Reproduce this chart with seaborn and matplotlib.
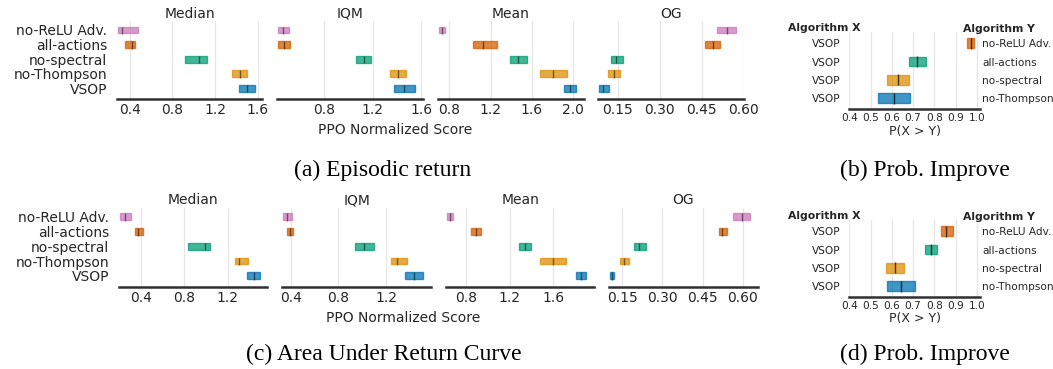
import numpy as np
import matplotlib
matplotlib.use("Agg")
import matplotlib.pyplot as plt
import seaborn as sns

# ---------------- data ----------------
algorithms = ["no-ReLU Adv.", "all-actions", "no-spectral", "no-Thompson", "VSOP"]
metrics = ["Median", "IQM", "Mean", "OG"]

# (a) Episodic return
ep_median_lo = [0.287, 0.353, 0.917, 1.359, 1.427]
ep_median_pt = [0.325, 0.425, 1.046, 1.434, 1.500]
ep_median_hi = [0.475, 0.447, 1.124, 1.497, 1.578]
ep_iqm_lo = [0.422, 0.422, 1.063, 1.346, 1.373]
ep_iqm_pt = [0.463, 0.466, 1.129, 1.411, 1.460]
ep_iqm_hi = [0.513, 0.518, 1.186, 1.474, 1.551]
ep_mean_lo = [0.700, 1.029, 1.390, 1.681, 1.907]
ep_mean_pt = [0.726, 1.128, 1.468, 1.807, 1.970]
ep_mean_hi = [0.761, 1.259, 1.549, 1.940, 2.023]
ep_og_lo = [0.5045, 0.463, 0.124, 0.113, 0.083]
ep_og_pt = [0.539, 0.489, 0.143, 0.135, 0.098]
ep_og_hi = [0.572, 0.516, 0.169, 0.158, 0.119]

# (c) Area under return curve
au_median_lo = [0.209, 0.350, 0.834, 1.268, 1.373]
au_median_pt = [0.255, 0.373, 0.987, 1.306, 1.440]
au_median_hi = [0.310, 0.418, 1.033, 1.382, 1.493]
au_iqm_lo = [0.338, 0.372, 0.936, 1.237, 1.353]
au_iqm_pt = [0.372, 0.394, 1.014, 1.293, 1.430]
au_iqm_hi = [0.411, 0.420, 1.095, 1.371, 1.506]
au_mean_lo = [0.627, 0.851, 1.289, 1.478, 1.806]
au_mean_pt = [0.657, 0.891, 1.338, 1.594, 1.852]
au_mean_hi = [0.687, 0.937, 1.393, 1.715, 1.898]
au_og_lo = [0.563, 0.510, 0.193, 0.141, 0.104]
au_og_pt = [0.597, 0.524, 0.213, 0.157, 0.111]
au_og_hi = [0.628, 0.541, 0.237, 0.176, 0.118]

# (b),(d) probability of improvement: VSOP vs others
pair_x = ["VSOP", "VSOP", "VSOP", "VSOP"]
pair_y = ["no-ReLU Adv.", "all-actions", "no-spectral", "no-Thompson"]
pi_ep_lo = [0.953, 0.683, 0.576, 0.537]
pi_ep_pt = [0.972, 0.720, 0.631, 0.611]
pi_ep_hi = [0.988, 0.761, 0.680, 0.686]
pi_au_lo = [0.831, 0.757, 0.573, 0.576]
pi_au_pt = [0.854, 0.785, 0.615, 0.642]
pi_au_hi = [0.887, 0.812, 0.658, 0.708]

# ---------------- style ----------------
sns.set_style("white")
plt.rcParams["font.family"] = ["DejaVu Sans"]
pal = sns.color_palette("colorblind")
algo_colors = {"VSOP": pal[0], "no-Thompson": pal[1], "no-spectral": pal[2],
               "all-actions": pal[3], "no-ReLU Adv.": pal[4]}
pair_colors = [pal[3], pal[2], pal[1], pal[0]]
TXT = "#262626"
GRID = "#e6e6e6"

W, H = 1053, 369
fig = plt.figure(figsize=(W / 100, H / 100), dpi=100)


def px_axes(x0, y0, x1, y1):
    return fig.add_axes([x0 / W, 1 - y1 / H, (x1 - x0) / W, (y1 - y0) / H])


def interval_panel(ax, lo, pt, hi, xlim, ticks, fmt, title, ylabels):
    n = len(algorithms)
    ypos = np.arange(n)[::-1]  # first algorithm on top
    for i, a in enumerate(algorithms):
        c = algo_colors[a]
        ax.barh(y=ypos[i], width=hi[i] - lo[i], left=lo[i], height=0.46,
                color=c, edgecolor=c, linewidth=1.0, alpha=0.75, zorder=3)
        ax.vlines(pt[i], ypos[i] - 0.28, ypos[i] + 0.23, color="k", alpha=0.5,
                  lw=1.0, zorder=4)
    ax.set_xlim(*xlim)
    ax.set_ylim(-0.73, 4.6)
    ax.set_xticks(ticks)
    ax.set_xticklabels([fmt.format(t) for t in ticks])
    ax.xaxis.grid(True, color=GRID, lw=0.9, zorder=0)
    ax.yaxis.grid(False)
    ax.set_yticks(ypos)
    if ylabels:
        ax.set_yticklabels(algorithms)
    else:
        ax.set_yticklabels([])
    ax.tick_params(axis="both", length=0, labelsize=10, colors=TXT)
    ax.tick_params(axis="x", pad=3)
    ax.tick_params(axis="y", pad=7)
    for s in ["top", "right", "left"]:
        ax.spines[s].set_visible(False)
    ax.spines["bottom"].set_color("#303030")
    ax.spines["bottom"].set_linewidth(1.8)
    ax.set_title(title, fontsize=10, color=TXT, pad=2.5)


def prob_panel(ax, lo, pt, hi):
    n = len(pair_y)
    ypos = np.arange(n)[::-1]
    for i in range(n):
        c = pair_colors[i]
        ax.barh(y=ypos[i], width=hi[i] - lo[i], left=lo[i], height=0.53,
                color=c, edgecolor=c, linewidth=1.0, alpha=0.75, zorder=3)
        ax.vlines(pt[i], ypos[i] - 0.3, ypos[i] + 0.3, color="k", alpha=0.7,
                  lw=1.0, zorder=4)
    ax.set_xlim(0.4, 1.015)
    ax.set_ylim(-0.6, 3.6)
    ticks = [0.4, 0.5, 0.6, 0.7, 0.8, 0.9, 1.0]
    ax.set_xticks(ticks)
    ax.set_xticklabels(["{:.1f}".format(t) for t in ticks])
    ax.xaxis.grid(True, color=GRID, lw=0.9, zorder=0)
    ax.set_yticks(ypos)
    ax.set_yticklabels(pair_x)
    ax.tick_params(axis="both", length=0, labelsize=7.6, colors=TXT)
    ax.tick_params(axis="x", pad=3)
    ax.tick_params(axis="y", pad=6)
    for s in ["top", "right", "left"]:
        ax.spines[s].set_visible(False)
    ax.spines["bottom"].set_color("#303030")
    ax.spines["bottom"].set_linewidth(1.8)
    ax2 = ax.twinx()
    ax2.set_ylim(ax.get_ylim())
    ax2.set_yticks(ypos)
    ax2.set_yticklabels(pair_y)
    ax2.tick_params(axis="y", length=0, labelsize=7.6, colors=TXT, pad=1.5)
    for s in ["top", "right", "left", "bottom"]:
        ax2.spines[s].set_visible(False)


# ---------------- row 1 ----------------
row1_x = [(117, 262), (277.3, 422.7), (437.7, 583.7), (598.3, 744.3)]
row1_data = [(ep_median_lo, ep_median_pt, ep_median_hi, (0.28, 1.64), [0.4, 0.8, 1.2, 1.6], "{:.1f}"),
             (ep_iqm_lo, ep_iqm_pt, ep_iqm_hi, (0.414, 1.612), [0.8, 1.2, 1.6], "{:.1f}"),
             (ep_mean_lo, ep_mean_pt, ep_mean_hi, (0.688, 2.101), [0.8, 1.2, 1.6, 2.0], "{:.1f}"),
             (ep_og_lo, ep_og_pt, ep_og_hi, (0.0795, 0.602), [0.15, 0.30, 0.45, 0.60], "{:.2f}")]
for k, ((x0, x1), (lo, pt, hi, xl, tk, fm)) in enumerate(zip(row1_x, row1_data)):
    ax = px_axes(x0, 21.2, x1, 99)
    interval_panel(ax, lo, pt, hi, xl, tk, fm, metrics[k], k == 0)

# ---------------- row 2 ----------------
row2_x = [(119, 267.3), (282.3, 431), (446, 594.3), (609.3, 757.7)]
row2_data = [(au_median_lo, au_median_pt, au_median_hi, (0.2, 1.564), [0.4, 0.8, 1.2], "{:.1f}"),
             (au_iqm_lo, au_iqm_pt, au_iqm_hi, (0.33, 1.574), [0.4, 0.8, 1.2], "{:.1f}"),
             (au_mean_lo, au_mean_pt, au_mean_hi, (0.62, 1.974), [0.8, 1.2, 1.6], "{:.1f}"),
             (au_og_lo, au_og_pt, au_og_hi, (0.1014, 0.656), [0.15, 0.30, 0.45, 0.60], "{:.2f}")]
for k, ((x0, x1), (lo, pt, hi, xl, tk, fm)) in enumerate(zip(row2_x, row2_data)):
    ax = px_axes(x0, 207.8, x1, 286.7)
    interval_panel(ax, lo, pt, hi, xl, tk, fm, metrics[k], k == 0)

fig.text(395 / W, 1 - 130 / H, "PPO Normalized Score", ha="center", va="center",
         fontsize=10, color=TXT)
fig.text(403 / W, 1 - 317.5 / H, "PPO Normalized Score", ha="center", va="center",
         fontsize=10, color=TXT)

# ---------------- prob panels ----------------
axp1 = px_axes(849.3, 32.3, 980, 109.3)
prob_panel(axp1, pi_ep_lo, pi_ep_pt, pi_ep_hi)
axp2 = px_axes(849.3, 220.3, 980, 297.3)
prob_panel(axp2, pi_au_lo, pi_au_pt, pi_au_hi)

for yx, yy, yl in [(28, 29, 131), (216, 216.7, 318.3)]:
    fig.text(824 / W, 1 - yx / H, "Algorithm X", ha="center", va="center",
             fontsize=7.8, fontweight="bold", color=TXT)
    fig.text(999 / W, 1 - yy / H, "Algorithm Y", ha="center", va="center",
             fontsize=7.8, fontweight="bold", color=TXT)
    fig.text(915 / W, 1 - yl / H, "P(X > Y)", ha="center", va="center",
             fontsize=9, color=TXT)

# ---------------- captions ----------------
cap = dict(ha="center", va="center", fontsize=17, family="Liberation Serif", color="black")
fig.text(383 / W, 1 - 170 / H, "(a) Episodic return", **cap)
fig.text(925 / W, 1 - 170 / H, "(b) Prob. Improve", **cap)
fig.text(384 / W, 1 - 354 / H, "(c) Area Under Return Curve", **cap)
fig.text(925 / W, 1 - 354 / H, "(d) Prob. Improve", **cap)

fig.savefig("out.png", dpi=100)
